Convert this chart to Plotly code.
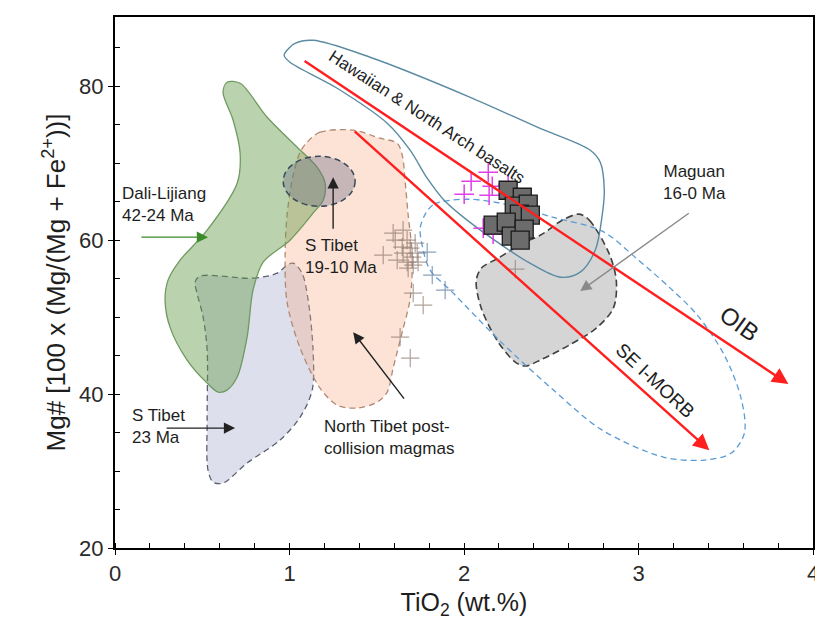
import plotly.graph_objects as go

# ---------------- field outlines (TiO2 wt.%, Mg#) ----------------
dali_x = [0.642, 0.717, 0.872, 1.044, 1.158, 1.204, 1.193, 1.135, 1.003, 0.849, 0.791, 0.757,
          0.700, 0.642, 0.591, 0.528, 0.413, 0.315, 0.287, 0.304, 0.373, 0.528, 0.700, 0.717,
          0.677, 0.619]
dali_y = [80.52, 80.39, 75.97, 72.08, 69.48, 67.40, 65.19, 63.51, 60.00, 57.14, 53.51, 47.40,
          42.21, 40.52, 40.26, 41.43, 44.42, 48.70, 52.21, 54.81, 57.40, 61.30, 67.40, 71.30,
          75.58, 79.22]

stibet23_x = [0.487, 0.791, 0.929, 0.986, 1.021, 1.072, 1.107, 1.135, 1.130, 1.061, 0.946,
              0.757, 0.619, 0.562, 0.533, 0.528, 0.528, 0.505, 0.470, 0.459]
stibet23_y = [55.32, 55.06, 55.71, 56.75, 57.01, 55.71, 52.21, 45.71, 40.52, 37.01, 34.03,
              31.04, 28.44, 28.57, 30.13, 37.01, 45.71, 50.00, 53.12, 54.55]

ntibet_x = [1.101, 1.175, 1.365, 1.519, 1.617, 1.646, 1.663, 1.680, 1.703, 1.692, 1.646, 1.594,
            1.560, 1.502, 1.388, 1.273, 1.175, 1.061, 0.986, 0.975, 0.986, 1.021, 1.061]
ntibet_y = [72.73, 74.03, 74.29, 73.25, 72.60, 71.04, 67.53, 63.25, 58.05, 52.47, 48.05, 43.38,
            40.26, 38.96, 38.18, 38.57, 40.78, 45.97, 51.95, 58.05, 63.25, 68.44, 71.43]

# S Tibet 19-10 Ma field: bounding box of the ellipse
stibet19_xr = [0.964, 1.376]
stibet19_yr = [64.4, 70.9]

hawaii_x = [0.986, 1.032, 1.135, 1.462, 2.036, 2.420, 2.724, 2.781, 2.804, 2.792, 2.752, 2.666,
            2.552, 2.368, 2.208, 2.018, 1.886, 1.789, 1.691, 1.560, 1.273, 1.003, 0.969]
hawaii_y = [84.68, 85.58, 85.97, 83.77, 78.57, 74.68, 71.69, 70.13, 66.49, 63.25, 58.70, 55.84,
            55.19, 57.14, 59.48, 62.60, 65.19, 68.05, 71.69, 75.19, 79.74, 83.12, 84.03]

maguan_x = [2.661, 2.718, 2.833, 2.873, 2.856, 2.758, 2.603, 2.448, 2.351, 2.294, 2.196, 2.099,
            2.070, 2.099, 2.196, 2.328, 2.448, 2.563]
maguan_y = [63.38, 62.60, 58.18, 54.68, 51.17, 48.57, 46.36, 44.55, 43.64, 44.16, 46.75, 51.17,
            54.68, 56.36, 57.66, 59.48, 60.78, 62.60]

morb_x = [1.778, 1.829, 2.018, 2.265, 2.506, 2.792, 2.987, 3.182, 3.337, 3.492, 3.589, 3.607,
          3.532, 3.377, 3.142, 2.792, 2.506, 2.213, 1.927, 1.806, 1.760, 1.749]
morb_y = [63.38, 64.68, 65.32, 64.55, 62.99, 61.17, 57.66, 53.77, 50.26, 45.06, 39.35, 34.94,
          32.34, 31.43, 31.82, 35.32, 40.65, 46.75, 53.38, 56.10, 59.35, 61.56]

# ---------------- samples ----------------
ntibet_pts_x = [1.594, 1.651, 1.606, 1.674, 1.537, 1.646, 1.692, 1.720, 1.651, 1.703, 1.732,
                1.617, 1.674, 1.709, 1.680, 1.737, 1.709, 1.766, 1.634, 1.692, 2.294]
ntibet_pts_y = [60.91, 61.30, 60.00, 60.00, 58.05, 59.09, 58.96, 59.61, 58.31, 57.79, 58.31,
                57.40, 57.14, 56.75, 56.36, 57.14, 53.12, 51.56, 47.40, 44.68, 56.23]
blue_pts_x = [1.789, 1.818, 1.892]
blue_pts_y = [58.44, 55.45, 53.51]

magenta_x = [2.139, 2.041, 2.162, 2.253, 2.001, 2.144, 2.110, 2.167, 2.242]
magenta_y = [68.83, 67.66, 67.01, 67.27, 65.97, 65.84, 61.56, 60.78, 61.04]

square_x = [2.253, 2.334, 2.288, 2.368, 2.317, 2.380, 2.167, 2.242, 2.271, 2.345, 2.322]
square_y = [66.49, 65.58, 64.42, 64.68, 63.38, 63.25, 61.95, 62.34, 60.52, 61.43, 60.00]

# ---------------- trends (start -> end) ----------------
oib_trend = [(1.078, 83.4), (3.859, 41.3)]
morb_trend = [(1.365, 74.3), (3.406, 32.7)]

FONT = "Liberation Sans, Arial, sans-serif"


def closed(xs, ys):
    return list(xs) + [xs[0]], list(ys) + [ys[0]]


fig = go.Figure()


def field(xs, ys, fill, line_color, dash=None, width=1.3):
    cx, cy = closed(xs, ys)
    fig.add_trace(go.Scatter(
        x=cx, y=cy, mode="lines", fill="toself" if fill else None,
        fillcolor=fill, line=dict(color=line_color, width=width, dash=dash,
                                  shape="spline", smoothing=0.9),
        hoverinfo="skip", showlegend=False))


field(stibet23_x, stibet23_y, "rgba(180,185,215,0.45)", "#5a6070", dash="6px,4px")
field(ntibet_x, ntibet_y, "rgba(245,170,130,0.33)", "#b08a72", dash="6px,4px")
field(dali_x, dali_y, "rgba(105,155,75,0.45)", "#6f9a60")
field(maguan_x, maguan_y, "rgba(185,185,185,0.6)", "#404040", dash="7px,4px", width=1.6)
field(morb_x, morb_y, None, "#5b9bd5", dash="6px,4px")
field(hawaii_x, hawaii_y, None, "#5b8ba3", width=1.4)

fig.add_shape(type="circle", xref="x", yref="y",
              x0=stibet19_xr[0], x1=stibet19_xr[1], y0=stibet19_yr[0], y1=stibet19_yr[1],
              fillcolor="rgba(110,110,135,0.38)",
              line=dict(color="#3b4a5a", width=1.5, dash="6px,4px"), layer="above")

fig.add_trace(go.Scatter(x=ntibet_pts_x, y=ntibet_pts_y, mode="markers",
                         marker=dict(symbol="cross-thin", size=13,
                                     line=dict(color="rgba(150,130,120,0.75)", width=1.2)),
                         hoverinfo="skip", showlegend=False))
fig.add_trace(go.Scatter(x=blue_pts_x, y=blue_pts_y, mode="markers",
                         marker=dict(symbol="cross-thin", size=13,
                                     line=dict(color="rgba(100,130,160,0.75)", width=1.2)),
                         hoverinfo="skip", showlegend=False))
fig.add_trace(go.Scatter(x=magenta_x, y=magenta_y, mode="markers",
                         marker=dict(symbol="cross-thin", size=14,
                                     line=dict(color="#e040e8", width=1.5)),
                         hoverinfo="skip", showlegend=False))
fig.add_trace(go.Scatter(x=square_x, y=square_y, mode="markers",
                         marker=dict(symbol="square", size=18, color="#6c6c6c",
                                     line=dict(color="#1a1a1a", width=1.3)),
                         hoverinfo="skip", showlegend=False))

# invisible trace carrying the inward half of the major ticks
fig.add_trace(go.Scatter(x=[0], y=[20], xaxis="x2", yaxis="y2", mode="markers",
                         marker=dict(opacity=0), hoverinfo="skip", showlegend=False))


def arrow(tail, tip, color, width, size=1.2):
    fig.add_annotation(x=tip[0], y=tip[1], ax=tail[0], ay=tail[1],
                       xref="x", yref="y", axref="x", ayref="y", text="",
                       showarrow=True, arrowhead=2, arrowsize=size,
                       arrowwidth=width, arrowcolor=color, standoff=0)


arrow(*oib_trend, "#ff1f1f", 2.4, 1.35)
arrow(*morb_trend, "#ff1f1f", 2.4, 1.35)
arrow((1.250, 61.30), (1.250, 68.18), "#222222", 1.4, 1.6)
arrow((0.143, 60.39), (0.533, 60.39), "#3a8a2a", 1.4, 1.6)
arrow((0.287, 35.58), (0.688, 35.58), "#222222", 1.4, 1.6)
arrow((1.663, 39.22), (1.365, 48.05), "#222222", 1.4, 1.6)
arrow((3.297, 63.64), (2.666, 53.38), "#8a8a8a", 1.4, 1.6)


def label(x, y, text, size=18, angle=0, xanchor="center", align="center"):
    fig.add_annotation(x=x, y=y, xref="x", yref="y", text=text, showarrow=False,
                       textangle=angle, xanchor=xanchor, yanchor="middle", align=align,
                       font=dict(family=FONT, size=size, color="#1e1e1e"))


label(1.789, 75.97, "Hawaiian &amp; North Arch basalts", 17, 33)
label(3.578, 49.22, "OIB", 24, 36)
label(3.096, 41.82, "SE I-MORB", 19, 43)
label(3.320, 67.5, "Maguan<br>16-0 Ma", 17)
label(0.029, 64.68, "Dali-Lijiang<br>42-24 Ma", 17, xanchor="left", align="left")
label(1.078, 57.86, "S Tibet<br>19-10 Ma", 17, xanchor="left", align="left")
label(0.086, 35.84, "S Tibet<br>23 Ma", 17, xanchor="left", align="left")
label(1.187, 34.35, "North Tibet post-<br>collision magmas", 17, xanchor="left", align="left")

axis_common = dict(showgrid=False, zeroline=False, showline=True, linecolor="black",
                   linewidth=2, mirror=True, ticks="outside", ticklen=5, tickwidth=1.3,
                   tickcolor="black", ticklabeloverflow="allow", automargin=False,
                   tickfont=dict(family=FONT, size=22, color="#2a2a2a"))

fig.update_layout(
    width=815, height=625,
    margin=dict(l=115, r=2, t=17, b=77, autoexpand=False),
    paper_bgcolor="white", plot_bgcolor="white",
    xaxis=dict(range=[0, 4], dtick=1,
               minor=dict(dtick=0.2, ticks="inside", ticklen=5, tickcolor="black", tickwidth=1),
               title=dict(text="TiO<sub>2</sub> (wt.%)", standoff=8,
                          font=dict(family=FONT, size=25, color="#1e1e1e")),
               **axis_common),
    yaxis=dict(range=[20, 89], dtick=20,
               minor=dict(dtick=5, ticks="inside", ticklen=5, tickcolor="black", tickwidth=1),
               title=dict(text="Mg# [100 x (Mg/(Mg + Fe<sup>2+</sup>))]", standoff=6,
                          font=dict(family=FONT, size=26, color="#1e1e1e")),
               **axis_common),
    xaxis2=dict(range=[0, 4], dtick=1, overlaying="x", anchor="y2", side="bottom",
                showgrid=False, zeroline=False, showline=False, ticks="inside", ticklen=4,
                tickwidth=1.3, tickcolor="black", showticklabels=False, automargin=False),
    yaxis2=dict(range=[20, 89], dtick=20, overlaying="y", anchor="x2", side="left",
                showgrid=False, zeroline=False, showline=False, ticks="inside", ticklen=4,
                tickwidth=1.3, tickcolor="black", showticklabels=False, automargin=False),
)

fig.write_html("out.html")
